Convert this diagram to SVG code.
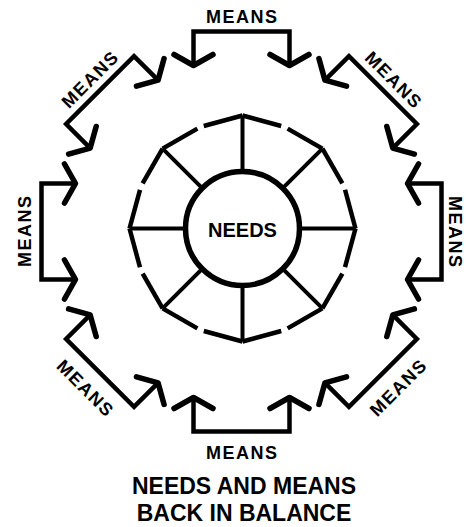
<svg xmlns="http://www.w3.org/2000/svg" xmlns:xlink="http://www.w3.org/1999/xlink" width="466" height="527" viewBox="0 0 466 527">
<style>
.bk{fill:none;stroke:#000;stroke-width:4.5;stroke-linejoin:miter;stroke-linecap:butt}
.ch{fill:none;stroke:#000;stroke-width:5.5;stroke-linejoin:round;stroke-linecap:round}
.rim{fill:none;stroke:#000;stroke-width:4.5;stroke-linecap:butt}
.spoke{fill:none;stroke:#000;stroke-width:4}
.lbl{font-family:"Liberation Sans",Arial,Helvetica,sans-serif;font-weight:bold;fill:#000;text-anchor:middle}
.means{font-size:18px}
</style>
<defs>
<g id="bracket">
<polyline class="bk" points="193.5,65.5 193.5,31.5 289.5,31.5 289.5,65.5"/>
<polyline class="ch" points="174,54.5 193.5,65.5 213,54.5"/>
<polyline class="ch" points="270,54.5 289.5,65.5 309,54.5"/>
</g>
<g id="octant">
<line class="rim" x1="242.5" y1="115.5" x2="281.2" y2="126"/>
<line class="rim" x1="322.4" y1="148.6" x2="287.6" y2="128.6"/>
<line class="spoke" x1="242.5" y1="171.5" x2="242.5" y2="115.5"/>
</g>
</defs>
<g id="wheel">
<use xlink:href="#octant"/>
<use xlink:href="#octant" transform="rotate(45 242.5 228.5)"/>
<use xlink:href="#octant" transform="rotate(90 242.5 228.5)"/>
<use xlink:href="#octant" transform="rotate(135 242.5 228.5)"/>
<use xlink:href="#octant" transform="rotate(180 242.5 228.5)"/>
<use xlink:href="#octant" transform="rotate(225 242.5 228.5)"/>
<use xlink:href="#octant" transform="rotate(270 242.5 228.5)"/>
<use xlink:href="#octant" transform="rotate(315 242.5 228.5)"/>
</g>
<g id="needs">
<circle cx="242.5" cy="228.5" r="57" fill="none" stroke="#000" stroke-width="5.5"/>
<text class="lbl" x="242.5" y="237" font-size="20">NEEDS</text>
</g>
<g id="connectors">
<use xlink:href="#bracket"/>
<use xlink:href="#bracket" transform="rotate(45 241.5 231.5)"/>
<use xlink:href="#bracket" transform="rotate(90 241.5 231.5)"/>
<use xlink:href="#bracket" transform="rotate(135 241.5 231.5)"/>
<use xlink:href="#bracket" transform="rotate(180 241.5 231.5)"/>
<use xlink:href="#bracket" transform="rotate(225 241.5 231.5)"/>
<use xlink:href="#bracket" transform="rotate(270 241.5 231.5)"/>
<use xlink:href="#bracket" transform="rotate(315 241.5 231.5)"/>
</g>
<g id="means-n"><text class="lbl means" x="241.5" y="23" textLength="71">MEANS</text></g>
<g id="means-ne"><text class="lbl means" x="241.5" y="23" textLength="71" transform="rotate(45 241.5 231.5)">MEANS</text></g>
<g id="means-e"><text class="lbl means" x="241.5" y="24" textLength="71" transform="rotate(90 241.5 231.5)">MEANS</text></g>
<g id="means-se"><text class="lbl means" x="241.5" y="459" textLength="71" transform="rotate(-45 241.5 231.5)">MEANS</text></g>
<g id="means-s"><text class="lbl means" x="241.5" y="459" textLength="71">MEANS</text></g>
<g id="means-sw"><text class="lbl means" x="241.5" y="459" textLength="71" transform="rotate(45 241.5 231.5)">MEANS</text></g>
<g id="means-w"><text class="lbl means" x="241.5" y="21" textLength="71" transform="rotate(-90 241.5 231.5)">MEANS</text></g>
<g id="means-nw"><text class="lbl means" x="241.5" y="23" textLength="71" transform="rotate(-45 241.5 231.5)">MEANS</text></g>
<g id="title">
<text class="lbl" x="244" y="494" font-size="23">NEEDS AND MEANS</text>
<text class="lbl" x="244" y="521" font-size="23">BACK IN BALANCE</text>
</g>
</svg>
